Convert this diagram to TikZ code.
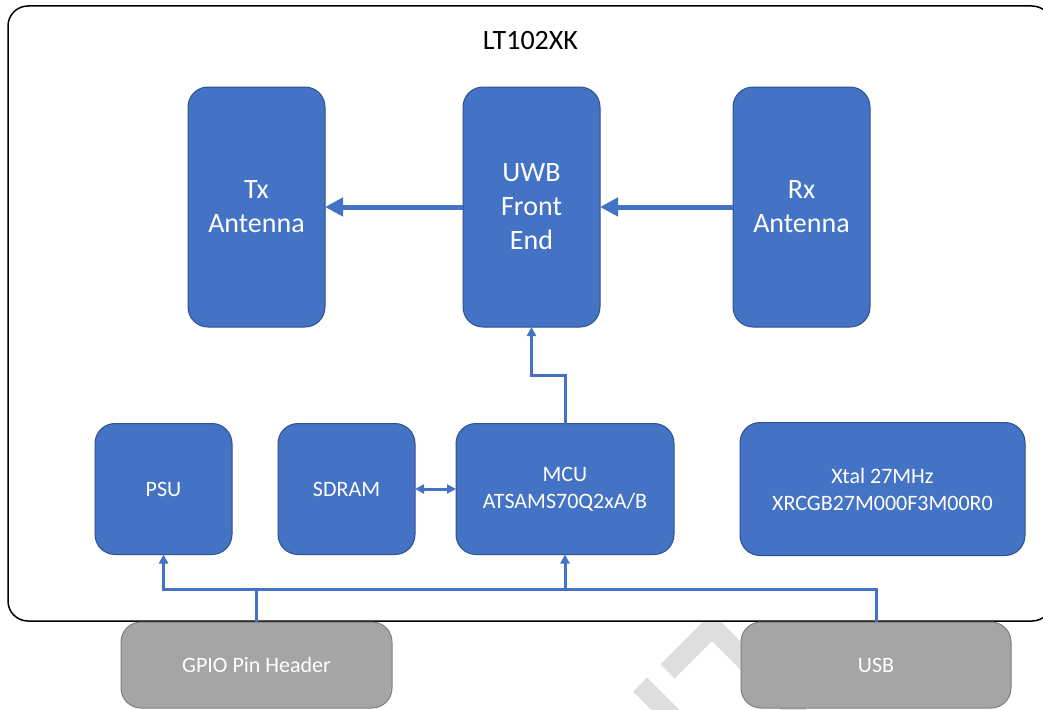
\documentclass[tikz,border=0pt]{standalone}
\usepackage{fontspec}
\setmainfont{Carlito}
\usepackage{tikz}
\usetikzlibrary{calc,arrows.meta}
\definecolor{blockblue}{HTML}{4472C4}
\definecolor{blockedge}{HTML}{2F528F}
\definecolor{portgray}{HTML}{A5A5A5}
\definecolor{portedge}{HTML}{7F7F7F}
\definecolor{markgray}{HTML}{DEDEDE}
\tikzset{
  block/.style={draw=blockedge, fill=blockblue, text=white, rounded corners=20pt,
        align=center, inner sep=0pt, outer sep=0pt, line width=1pt},
  big block/.style={block, minimum width=137pt, minimum height=240pt,
        font=\fontsize{28}{34}\selectfont},
  small block/.style={block, minimum height=131pt, font=\fontsize{22}{27}\selectfont},
  port/.style={block, draw=portedge, fill=portgray, minimum height=86pt,
        font=\fontsize{22}{27}\selectfont},
  board/.style={draw=black, fill=white, line width=1.5pt, rounded corners=20pt,
        inner sep=0pt, outer sep=0pt},
  rf link/.style={draw=blockblue, line width=5pt, -{Triangle[length=18pt,width=18pt]}},
  bus link/.style={draw=blockblue, line width=3pt},
  bus arrow/.style={bus link, -{Triangle[length=9pt,width=9pt]}},
  bus both/.style={bus link, {Triangle[length=9pt,width=9pt]}-{Triangle[length=9pt,width=9pt]}}
}
\def\Mark#1#2{\draw[markgray, line width=20pt] #1 -- #2;}

\begin{document}
\begin{tikzpicture}[x=1pt, y=-1pt]
\useasboundingbox (0,0) rectangle (1043,709);
\clip (0,0) rectangle (1043,709);
% watermark, mostly hidden by the board
\Mark{(640,684.5)}{(710,754.5)}
\draw[markgray, line width=20pt] (667.5,671.5) -- (712,627) -- (800,715);
\node[board, minimum width=1044pt, minimum height=615pt] (board) at (530,313.5) {};
\node[font=\fontsize{28}{34}\selectfont] (title) at (530.5,41) {LT102XK};

\node[big block] (tx) at (256.5,207) {Tx\\Antenna};
\node[big block] (uwb) at (531.5,207) {UWB\\Front\\End};
\node[big block] (rx) at (801.5,207) {Rx\\Antenna};

\node[small block, minimum width=137pt] (psu) at (163.5,489) {PSU};
\node[small block, minimum width=137pt] (sdram) at (346.5,489) {SDRAM};
\node[small block, minimum width=218pt] (mcu) at (565,489) {MCU\\ATSAMS70Q2xA/B};
\node[small block, minimum width=285pt, minimum height=133pt] (xtal) at (882.5,489) {Xtal 27MHz\\XRCGB27M000F3M00R0};

\node[port, minimum width=271pt] (gpio) at (256.5,665) {GPIO Pin Header};
\node[port, minimum width=270pt] (usb) at (876,665) {USB};

\draw[rf link] (uwb.west) -- (tx.east);
\draw[rf link] (rx.west) -- (uwb.east);
\coordinate (rise) at ($(mcu.north)!0.5!(uwb.south)$);
\draw[bus arrow] (mcu.north) |- (rise) -| (uwb.south);
\draw[bus both] (sdram.east) -- (mcu.west);

\coordinate (bus) at (0,589);
\draw[bus link] (gpio.north) |- (usb.north |- bus) -- (usb.north);
\draw[bus arrow] (gpio.north |- bus) -| (psu.south);
\draw[bus arrow] (mcu.south |- bus) -- (mcu.south);
\end{tikzpicture}
\end{document}
